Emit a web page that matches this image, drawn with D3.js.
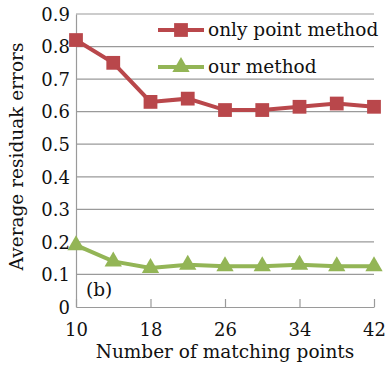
<!DOCTYPE html>
<html>
<head>
<meta charset="utf-8">
<script src="https://cdn.jsdelivr.net/npm/d3@7"></script>
<style>
  body { margin: 0; background: #fff; }
  text { font-family: "DejaVu Serif", "Liberation Serif", serif; fill: #111; }
</style>
</head>
<body>
<svg id="chart"></svg>
<script>
// data
const matchingPoints = [10, 14, 18, 22, 26, 30, 34, 38, 42];
const onlyPointMethod = [0.82, 0.75, 0.63, 0.64, 0.605, 0.605, 0.615, 0.625, 0.615];
const ourMethod = [0.19, 0.14, 0.12, 0.13, 0.125, 0.125, 0.13, 0.125, 0.125];
const xTicks = [10, 18, 26, 34, 42];
const yTicks = [0, 0.1, 0.2, 0.3, 0.4, 0.5, 0.6, 0.7, 0.8, 0.9];

const W = 390, H = 365;
const margin = {top: 14, right: 16, bottom: 58, left: 76};
const width = W - margin.left - margin.right;
const height = H - margin.top - margin.bottom;

const svg = d3.select("#chart").attr("width", W).attr("height", H);
const g = svg.append("g").attr("transform", `translate(${margin.left},${margin.top})`);

const x = d3.scaleLinear().domain([10, 42]).range([0, width]);
const y = d3.scaleLinear().domain([0, 0.9]).range([height, 0]);

// horizontal grid
g.append("g")
    .selectAll("line")
    .data(yTicks.filter(d => d > 0))
    .enter().append("line")
    .attr("x1", 0).attr("x2", width)
    .attr("y1", d => y(d)).attr("y2", d => y(d))
    .style("stroke", "#9a9a9a").style("stroke-width", 1.2);

// y axis
const yAxis = g.append("g")
    .call(d3.axisLeft(y).tickValues(yTicks).tickSize(0).tickPadding(6)
        .tickFormat(d => d === 0 ? "0" : d3.format(".1f")(d)));
yAxis.select(".domain").style("stroke", "#9a9a9a").style("stroke-width", 1.2);
yAxis.selectAll("text").style("font-size", "18px").attr("dy", "0.35em");

// x axis, ticks point inward
const xAxis = g.append("g")
    .attr("transform", `translate(0,${height})`)
    .call(d3.axisBottom(x).tickValues(xTicks).tickSizeInner(-8).tickSizeOuter(0).tickPadding(16));
xAxis.select(".domain").style("stroke", "#9a9a9a").style("stroke-width", 1.2);
xAxis.selectAll(".tick line").style("stroke", "#9a9a9a").style("stroke-width", 1.2);
xAxis.selectAll("text").style("font-size", "18px");

// axis titles
svg.append("text")
    .attr("x", margin.left + width / 2)
    .attr("y", 358)
    .attr("text-anchor", "middle")
    .style("font-size", "18.5px")
    .text("Number of matching points");

svg.append("text")
    .attr("transform", `translate(23,${margin.top + height / 2 - 4}) rotate(-90)`)
    .attr("text-anchor", "middle")
    .style("font-size", "18.5px")
    .text("Average residuak errors");

g.append("text")
    .attr("x", 10).attr("y", y(0.035))
    .style("font-size", "18.5px")
    .text("(b)");

const series = [
    {name: "only point method", values: onlyPointMethod, color: "#b9474b", symbol: d3.symbolSquare, size: 190},
    {name: "our method", values: ourMethod, color: "#93b556", symbol: d3.symbolTriangle, size: 130}
];

const line = d3.line()
    .x((d, i) => x(matchingPoints[i]))
    .y(d => y(d));

series.forEach(s => {
    g.append("path")
        .datum(s.values)
        .attr("d", line)
        .style("fill", "none")
        .style("stroke", s.color)
        .style("stroke-width", 4);
    g.selectAll(null)
        .data(s.values)
        .enter().append("path")
        .attr("transform", (d, i) => `translate(${x(matchingPoints[i])},${y(d)})`)
        .attr("d", d3.symbol().type(s.symbol).size(s.size))
        .style("fill", s.color);
});

// legend
const legend = svg.append("g").attr("transform", "translate(158,30)");
series.forEach((s, i) => {
    const row = legend.append("g").attr("transform", `translate(0,${i * 37})`);
    row.append("line")
        .attr("x1", 0).attr("x2", 46).attr("y1", 0).attr("y2", 0)
        .style("stroke", s.color).style("stroke-width", 4);
    row.append("path")
        .attr("transform", "translate(23,0)")
        .attr("d", d3.symbol().type(s.symbol).size(s.size))
        .style("fill", s.color);
    row.append("text")
        .attr("x", 50).attr("y", 0).attr("dy", "0.32em")
        .style("font-size", "18.5px")
        .text(s.name);
});
</script>
</body>
</html>
